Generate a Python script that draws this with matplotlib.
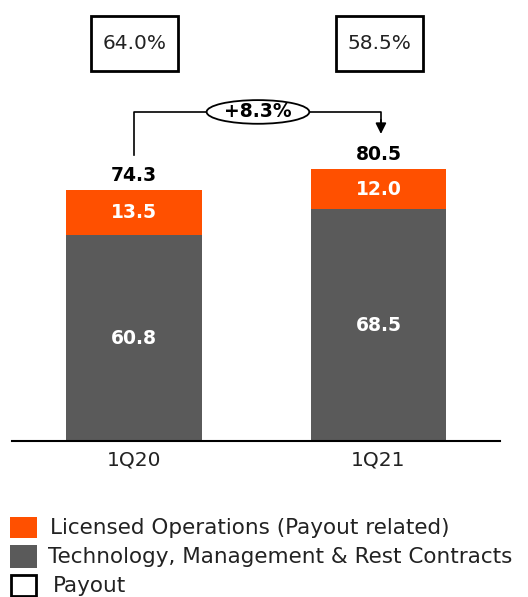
import matplotlib
matplotlib.use("Agg")
import matplotlib.pyplot as plt
from matplotlib.patches import Rectangle, Ellipse

categories = ["1Q20", "1Q21"]
tech_mgmt = [60.8, 68.5]
licensed = [13.5, 12.0]
totals = [74.3, 80.5]
payout = ["64.0%", "58.5%"]
growth_label = "+8.3%"
legend_labels = ["Licensed Operations (Payout related)",
                 "Technology, Management & Rest Contracts",
                 "Payout"]

ORANGE = "#FF5000"
GRAY = "#5A5A5A"
REG = "DejaVu Sans"

W, H = 528, 597
fig = plt.figure(figsize=(W / 100, H / 100), dpi=100)
ax = fig.add_axes([12 / W, (H - 441) / H, 488 / W, 441 / H])

x = list(range(len(categories)))
bw = 0.556
ax.bar(x, tech_mgmt, width=bw, color=GRAY, zorder=2)
ax.bar(x, licensed, width=bw, bottom=tech_mgmt, color=ORANGE, zorder=2)

ax.set_xlim(-0.499, 1.497)
ax.set_ylim(0, 130.4)

for sp in ["top", "right", "left"]:
    ax.spines[sp].set_visible(False)
ax.spines["bottom"].set_linewidth(1.5)
ax.set_yticks([])
ax.set_xticks(x)
ax.set_xticklabels(categories, fontsize=14.5, family=REG, color="#222222")
ax.tick_params(axis="x", length=0, pad=7)

bold = dict(family="DejaVu Sans", fontweight="bold", fontsize=13.5)
for i in x:
    ax.text(i, tech_mgmt[i] / 2, f"{tech_mgmt[i]:.1f}", ha="center", va="center",
            color="white", **bold)
    ax.text(i, tech_mgmt[i] + licensed[i] / 2, f"{licensed[i]:.1f}", ha="center",
            va="center", color="white", **bold)
    ax.text(i, totals[i] + 4.3, f"{totals[i]:.1f}", ha="center", va="center",
            color="black", **bold)
    # payout boxes
    bx_w, bx_h = 0.356, 16.3
    ax.add_patch(Rectangle((i + 0.004 - bx_w / 2, 117.6 - bx_h / 2), bx_w, bx_h,
                           fill=False, edgecolor="black", linewidth=2, zorder=3,
                           clip_on=False))
    ax.text(i + 0.004, 117.6, payout[i], ha="center", va="center", fontsize=14.5,
            family=REG, color="#222222")

# growth arrow
y_line = 97.3
ax.plot([0, 0, 1.01, 1.01], [84.6, y_line, y_line, 94.0], color="black",
        linewidth=1.2, zorder=3)
ax.annotate("", xy=(1.01, 90.8), xytext=(1.01, 95.0),
            arrowprops=dict(arrowstyle="-|>", color="black", lw=1.2,
                            mutation_scale=16, shrinkA=0, shrinkB=0))
ax.add_patch(Ellipse((0.507, y_line), 0.42, 7.0, facecolor="white",
                     edgecolor="black", linewidth=1.3, zorder=4))
ax.text(0.507, y_line, growth_label, ha="center", va="center", zorder=5, **bold)

# legend
def fx(px):
    return px / W

def fy(py):
    return (H - py) / H

fig.patches.append(Rectangle((fx(10), fy(538)), 27 / W, 21 / H,
                             transform=fig.transFigure, facecolor=ORANGE,
                             edgecolor="none"))
fig.patches.append(Rectangle((fx(10), fy(568)), 27 / W, 23 / H,
                             transform=fig.transFigure, facecolor=GRAY,
                             edgecolor="none"))
fig.patches.append(Rectangle((fx(11), fy(596)), 25 / W, 21 / H,
                             transform=fig.transFigure, facecolor="white",
                             edgecolor="black", linewidth=2, clip_on=False))
leg_y = [528, 557, 586]
leg_x = [50, 48, 53]
for lab, yy, xx in zip(legend_labels, leg_y, leg_x):
    fig.text(fx(xx), fy(yy), lab, ha="left", va="center", fontsize=15.5,
             family=REG, color="#222222")

fig.savefig("out.png", dpi=100)
